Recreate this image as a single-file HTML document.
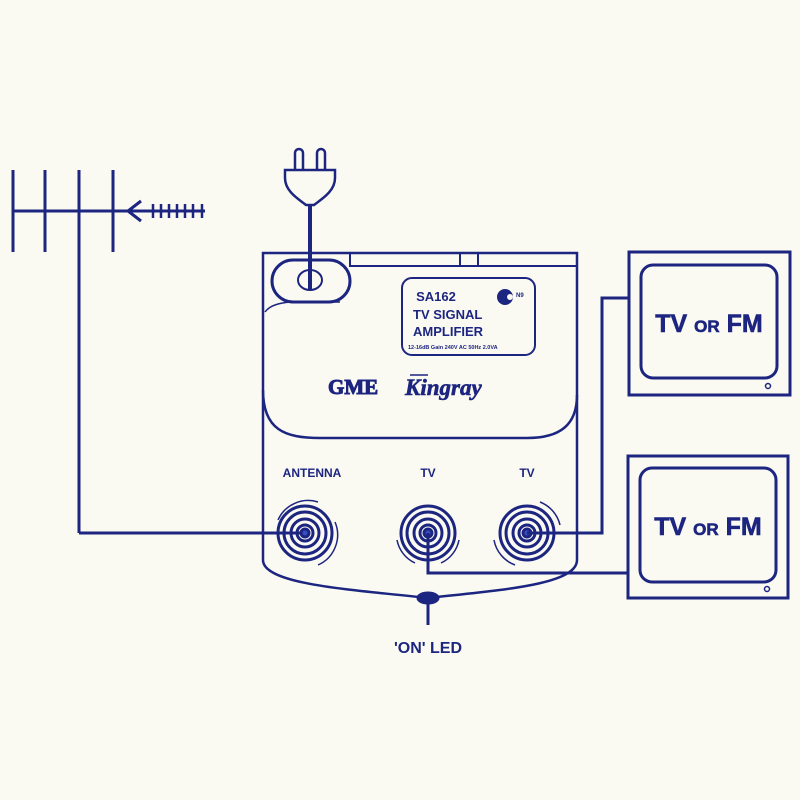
<!DOCTYPE html>
<html><head><meta charset="utf-8"><style>
html,body{margin:0;padding:0;background:#fbfaf2;}
svg{display:block}
text{font-family:"Liberation Sans",sans-serif;font-weight:bold;fill:#1c2580}
</style></head><body>
<svg width="800" height="800" viewBox="0 0 800 800" xmlns="http://www.w3.org/2000/svg">
<rect width="800" height="800" fill="#fbfaf2"/>
<g stroke="#1c2580" fill="none" stroke-width="3">
<!-- antenna -->
<line x1="13" y1="170" x2="13" y2="252"/>
<line x1="45" y1="170" x2="45" y2="252"/>
<line x1="79" y1="170" x2="79" y2="533"/>
<line x1="113" y1="170" x2="113" y2="252"/>
<line x1="13" y1="211" x2="150" y2="211"/>
<polyline points="141,201 128,211 141,221"/>
<line x1="150" y1="211" x2="205" y2="211"/>
<g stroke-width="2.5">
<line x1="153" y1="204" x2="153" y2="218"/><line x1="161" y1="204" x2="161" y2="218"/>
<line x1="169" y1="204" x2="169" y2="218"/><line x1="177" y1="204" x2="177" y2="218"/>
<line x1="185" y1="204" x2="185" y2="218"/><line x1="193" y1="204" x2="193" y2="218"/>
<line x1="202" y1="204" x2="202" y2="218"/>
</g>
<polyline points="79,533 305,533"/>
<!-- plug -->
<path d="M295,170 V153 a4,4 0 0 1 8,0 V170 M317,170 V153 a4,4 0 0 1 8,0 V170" stroke-width="2.5"/>
<path d="M285,170 H335 V178 C335,192 320,200 314,205 H306 C300,200 285,192 285,178 Z" stroke-width="2.5"/>
<line x1="310" y1="205" x2="310" y2="290" stroke-width="4"/>
<!-- body -->
<path d="M263,253 H577 V560 C577,585 500,590 428,598 C356,590 263,585 263,560 Z" stroke-width="2.5"/>
<path d="M263,390 C263,430 285,438 320,438 H527 C560,438 577,425 577,395" stroke-width="2.5"/>
<path d="M350,253 V266 H577 M460,253 V266 M478,253 V266" stroke-width="2"/>
<rect x="272" y="260" width="78" height="42" rx="21" stroke-width="3"/>
<ellipse cx="310" cy="280" rx="12" ry="10" stroke-width="2"/>
<path d="M265,312 C270,305 280,303 290,302 H340" stroke-width="1.5"/>
<rect x="402" y="278" width="133" height="77" rx="10" stroke-width="2"/>
<!-- led -->
<ellipse cx="428" cy="598" rx="10" ry="5" fill="#1c2580"/>
<line x1="428" y1="600" x2="428" y2="625"/>
<!-- connectors -->
<g stroke-width="3">
<circle cx="305" cy="533" r="27"/><circle cx="305" cy="533" r="21"/><circle cx="305" cy="533" r="14"/><circle cx="305" cy="533" r="8"/>
<circle cx="305" cy="533" r="4" fill="#3a4fc0"/>
<path d="M278,520 A33,33 0 0 1 318,502 M335,522 A33,33 0 0 1 318,565" stroke-width="1.5"/>
</g>
<g stroke-width="3">
<circle cx="428" cy="533" r="27"/><circle cx="428" cy="533" r="21"/><circle cx="428" cy="533" r="14"/><circle cx="428" cy="533" r="8"/>
<circle cx="428" cy="533" r="4" fill="#3a4fc0"/>
<path d="M397,540 A32,32 0 0 0 415,563 M459,540 A32,32 0 0 1 441,563" stroke-width="1.5"/>
</g>
<g stroke-width="3">
<circle cx="527" cy="533" r="27"/><circle cx="527" cy="533" r="21"/><circle cx="527" cy="533" r="14"/><circle cx="527" cy="533" r="8"/>
<circle cx="527" cy="533" r="4" fill="#3a4fc0"/>
<path d="M540,502 A33,33 0 0 1 560,525 M494,540 A33,33 0 0 0 515,565" stroke-width="1.5"/>
</g>
<!-- wires -->
<polyline points="527,533 602,533 602,298 629,298"/>
<polyline points="428,533 428,573 628,573"/>
<!-- TVs -->
<rect x="629" y="252" width="161" height="143"/>
<rect x="641" y="265" width="136" height="113" rx="12"/>
<circle cx="768" cy="386" r="2.5" stroke-width="1.5"/>
<rect x="628" y="456" width="160" height="142"/>
<rect x="640" y="468" width="136" height="114" rx="12"/>
<circle cx="767" cy="589" r="2.5" stroke-width="1.5"/>
</g>
<!-- text -->
<text x="436" y="301" font-size="13" text-anchor="middle">SA162</text>
<circle cx="505" cy="297" r="8" fill="#1c2580"/><circle cx="510" cy="297" r="3" fill="#fbfaf2"/>
<text x="516" y="297" font-size="6">N9</text>
<text x="413" y="319" font-size="13">TV SIGNAL</text>
<text x="413" y="336" font-size="13">AMPLIFIER</text>
<text x="408" y="349" font-size="5.5">12-16dB Gain 240V AC 50Hz 2.0VA</text>
<text x="328" y="394" font-size="21" style="font-family:'Liberation Serif',serif;font-weight:900" stroke="#1c2580" stroke-width="1">GME</text>
<text x="405" y="395" font-size="23" font-style="italic" style="font-family:'Liberation Serif',serif" stroke="#1c2580" stroke-width="0.6">Kingray</text>
<line x1="410" y1="375" x2="428" y2="375" stroke="#1c2580" stroke-width="1.5"/>
<text x="312" y="477" font-size="12" text-anchor="middle">ANTENNA</text>
<text x="428" y="477" font-size="12" text-anchor="middle">TV</text>
<text x="527" y="477" font-size="12" text-anchor="middle">TV</text>
<text x="428" y="653" font-size="16" text-anchor="middle">'ON' LED</text>
<text x="709" y="332" font-size="25" text-anchor="middle" stroke="#1c2580" stroke-width="0.6">TV <tspan font-size="17">OR</tspan> FM</text>
<text x="708" y="535" font-size="25" text-anchor="middle" stroke="#1c2580" stroke-width="0.6">TV <tspan font-size="17">OR</tspan> FM</text>
</svg>
</body></html>
